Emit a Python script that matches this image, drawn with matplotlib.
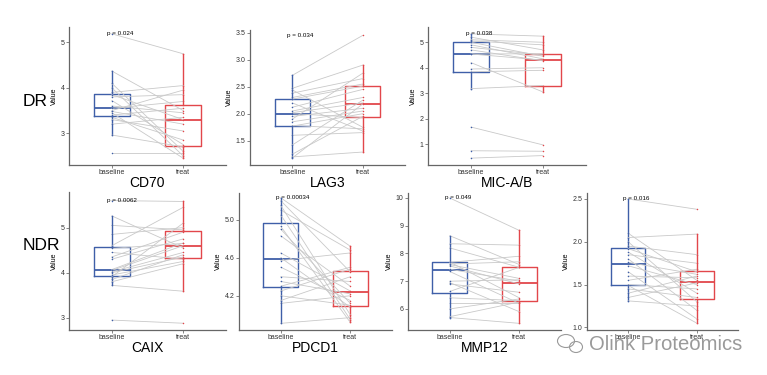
import matplotlib
matplotlib.use("Agg")
import matplotlib.pyplot as plt
from matplotlib.patches import Ellipse

plt.rcParams['font.family'] = ['Liberation Sans', 'DejaVu Sans']

W, H = 767, 375
blue = "#3f5fa8"
red = "#e2474b"
groups = ["baseline", "treat"]

# paired values (baseline, treat)
cd70_base = [5.19, 4.37, 4.1, 4.0, 3.9, 3.85, 3.8, 3.72, 3.6, 3.55, 3.5, 3.48, 3.45, 3.4, 3.35, 3.3, 3.2, 2.96, 2.57]
cd70_treat = [4.75, 3.5, 2.6, 2.5, 4.05, 3.3, 3.85, 2.75, 3.45, 3.7, 3.95, 3.2, 2.45, 3.55, 2.85, 3.05, 3.35, 2.7, 2.57]

lag3_base = [2.71, 2.47, 2.44, 2.38, 2.3, 2.27, 2.2, 2.12, 2.05, 2.02, 2.0, 1.95, 1.9, 1.85, 1.78, 1.77, 1.6, 1.42, 1.25, 1.2, 1.18]
lag3_treat = [3.45, 2.9, 1.75, 2.65, 2.55, 2.51, 1.68, 2.45, 2.3, 2.2, 1.93, 2.1, 2.75, 2.05, 1.72, 2.0, 1.65, 2.25, 1.95, 1.29, 2.18]

mica_base = [5.33, 5.2, 5.1, 5.05, 5.0, 4.9, 4.8, 4.7, 4.54, 4.54, 4.2, 3.95, 3.84, 3.18, 1.67, 0.74, 0.45]
mica_treat = [5.24, 4.7, 5.0, 4.9, 4.45, 4.35, 4.5, 4.27, 4.55, 4.3, 3.05, 4.0, 3.9, 3.3, 0.97, 0.72, 0.55]

caix_base = [5.6, 5.26, 5.05, 4.85, 4.6, 4.54, 4.45, 4.35, 4.3, 4.05, 4.02, 4.07, 4.0, 3.95, 3.91, 3.85, 3.8, 3.72, 2.95]
caix_treat = [5.58, 4.55, 4.95, 5.0, 5.45, 4.65, 4.3, 4.9, 4.75, 4.6, 4.45, 4.66, 4.35, 4.25, 5.1, 4.4, 4.2, 3.59, 2.88]

pdcd1_base = [5.23, 5.2, 5.15, 5.1, 5.05, 4.9, 4.93, 4.83, 4.65, 4.6, 4.57, 4.5, 4.4, 4.35, 4.3, 4.25, 4.2, 4.15, 4.12, 3.91]
pdcd1_treat = [4.72, 4.45, 4.0, 4.68, 3.95, 4.12, 3.92, 4.3, 4.25, 4.08, 4.65, 4.15, 4.35, 4.22, 4.5, 4.48, 4.1, 4.4, 4.2, 3.97]

mmp12_base = [10.0, 8.64, 8.35, 8.2, 7.68, 7.62, 7.69, 7.6, 7.55, 7.43, 7.35, 7.0, 6.95, 6.9, 6.63, 6.4, 6.2, 6.0, 5.72, 5.69]
mmp12_treat = [8.83, 7.6, 8.3, 7.5, 7.9, 7.7, 6.4, 7.1, 6.9, 7.0, 6.2, 7.05, 5.9, 6.6, 7.5, 6.3, 6.2, 6.36, 6.25, 5.48]

last_base = [2.5, 2.1, 2.05, 2.0, 1.95, 1.92, 1.88, 1.85, 1.8, 1.76, 1.72, 1.65, 1.6, 1.55, 1.5, 1.49, 1.45, 1.4, 1.35, 1.31]
last_treat = [2.38, 1.55, 2.09, 1.3, 1.85, 1.65, 1.4, 1.75, 1.2, 1.62, 1.5, 1.1, 1.58, 1.68, 1.45, 1.05, 1.35, 1.6, 1.52, 1.25]


def panel(fig, px, base, treat, ylim, yticks, label, pval, fmt="%g"):
    x0, y0, x1, y1 = px
    ax = fig.add_axes([x0 / W, 1 - y1 / H, (x1 - x0) / W, (y1 - y0) / H])
    for b, t in zip(base, treat):
        ax.plot([1, 2], [b, t], color="#c9c9c9", lw=0.6, zorder=2)
    for pos, vals, c in [(1, base, blue), (2, treat, red)]:
        ax.boxplot([vals], positions=[pos], widths=0.5, showfliers=False, showcaps=False,
                   boxprops=dict(color=c, lw=1.0), whiskerprops=dict(color=c, lw=1.0),
                   medianprops=dict(color=c, lw=1.3), zorder=1)
        ax.scatter([pos] * len(vals), vals, s=1.2, color=c, zorder=3, lw=0)
    ax.text(0.93, max(base + treat), "p = " + pval, fontsize=4.5, va="center", ha="left", zorder=4)
    ax.set_xlim(0.4, 2.6)
    ax.set_ylim(*ylim)
    ax.set_xticks([1, 2])
    ax.set_xticklabels(groups)
    ax.set_yticks(yticks)
    ax.yaxis.set_major_formatter(matplotlib.ticker.FormatStrFormatter(fmt))
    ax.tick_params(labelsize=5, length=2, width=0.5, color="#555555", pad=1.2, labelcolor="#333333")
    ax.set_ylabel("Value", fontsize=5, labelpad=2)
    ax.set_xlabel(label, fontsize=10, labelpad=0)
    for s in ["top", "right"]:
        ax.spines[s].set_visible(False)
    for s in ["left", "bottom"]:
        ax.spines[s].set_color("#666666")
        ax.spines[s].set_linewidth(0.9)
    return ax


fig = plt.figure(figsize=(W / 100, H / 100), dpi=100)

panel(fig, (69, 27, 226, 165), cd70_base, cd70_treat, (2.3, 5.34), [3, 4, 5], "CD70", "0.024")
panel(fig, (250, 30, 405, 165), lag3_base, lag3_treat, (1.05, 3.55), [1.5, 2.0, 2.5, 3.0, 3.5], "LAG3", "0.034", "%.1f")
panel(fig, (428, 27, 586, 165), mica_base, mica_treat, (0.18, 5.6), [1, 2, 3, 4, 5], "MIC-A/B", "0.038")
panel(fig, (69, 192, 226, 330), caix_base, caix_treat, (2.73, 5.79), [3, 4, 5], "CAIX", "0.0062")
panel(fig, (239, 193, 392, 330), pdcd1_base, pdcd1_treat, (3.84, 5.28), [4.2, 4.6, 5.0], "PDCD1", "0.00034", "%.1f")
panel(fig, (408, 193, 561, 330), mmp12_base, mmp12_treat, (5.24, 10.18), [6, 7, 8, 9, 10], "MMP12", "0.049")
panel(fig, (587, 193, 738, 330), last_base, last_treat, (0.97, 2.57), [1.0, 1.5, 2.0, 2.5], "", "0.016", "%.1f")

fig.text(23 / W, 1 - 101 / H, "DR", fontsize=12.5, va="center", ha="left")
fig.text(23 / W, 1 - 245 / H, "NDR", fontsize=12.5, va="center", ha="left")

# watermark
fig.text(589 / W, 1 - 345 / H, "Olink Proteomics", fontsize=14.6, color="#9a9a9a", va="center", ha="left")
fig.patches.append(Ellipse((566 / W, 1 - 341 / H), 17 / W, 13 / H, transform=fig.transFigure,
                           fill=False, ec="#9a9a9a", lw=0.8))
fig.patches.append(Ellipse((576 / W, 1 - 347 / H), 13 / W, 11 / H, transform=fig.transFigure,
                           fill=False, ec="#9a9a9a", lw=0.8))

fig.savefig("out.png", dpi=100)
